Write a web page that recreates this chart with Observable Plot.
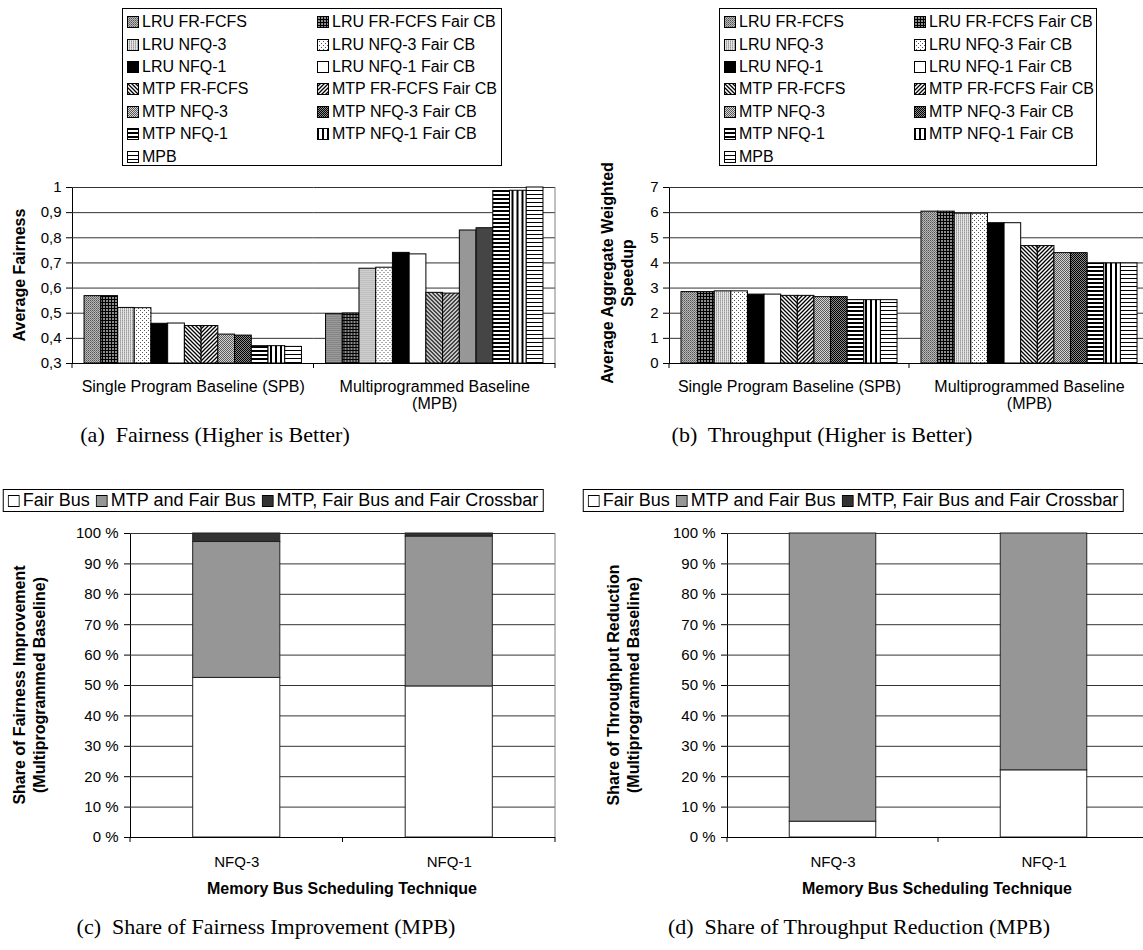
<!DOCTYPE html>
<html><head><meta charset="utf-8">
<script src="https://cdn.jsdelivr.net/npm/d3@7"></script>
<script src="https://cdn.jsdelivr.net/npm/@observablehq/plot@0.6"></script>
<style>
body{margin:0;background:#fff;}
#page{position:relative;width:1143px;height:950px;overflow:hidden;font-family:"Liberation Sans",Arial,Helvetica,sans-serif;color:#000;background:#fff;}
.box{position:absolute;}
.legend{position:absolute;border:1px solid #000;background:#fff;box-sizing:border-box;}
.tl{display:grid;grid-template-columns:190px auto;grid-auto-rows:22.4px;padding:2px 0 0 4px;font-size:16px;}
.tl .it{display:flex;align-items:center;white-space:nowrap;}
.tl svg,.bl svg{margin-right:3px;flex:none;}
.bl{display:flex;align-items:center;white-space:nowrap;font-size:18px;padding:0 4px;height:23px;transform:translateX(-50%);}
.bl .it{display:flex;align-items:center;margin-right:6px;}
.bl .it:last-child{margin-right:0;}
.caption{position:absolute;font-family:"Liberation Serif","Times New Roman",serif;font-size:22px;white-space:nowrap;transform:translate(-50%,-50%);}
.ytitle{position:absolute;font-weight:bold;font-size:16px;white-space:nowrap;text-align:center;line-height:1.25;transform:translate(-50%,-50%) rotate(-90deg);}
.xtitle{position:absolute;font-weight:bold;font-size:16px;white-space:nowrap;transform:translate(-50%,-50%);}
</style></head>
<body><div id="page"></div>
<script>
// ---------------- DATA ----------------
const series = ["LRU FR-FCFS","LRU FR-FCFS Fair CB","LRU NFQ-3","LRU NFQ-3 Fair CB","LRU NFQ-1","LRU NFQ-1 Fair CB","MTP FR-FCFS","MTP FR-FCFS Fair CB","MTP NFQ-3","MTP NFQ-3 Fair CB","MTP NFQ-1","MTP NFQ-1 Fair CB","MPB"];
const baselines = ["Single Program Baseline (SPB)", "Multiprogrammed Baseline (MPB)"];
const baselineLabels = ["Single Program Baseline (SPB)", "Multiprogrammed Baseline\n(MPB)"];
const fairnessSPB = [0.568,0.568,0.521,0.520,0.458,0.459,0.449,0.449,0.415,0.411,0.369,0.369,0.366];
const fairnessMPB = [0.496,0.499,0.677,0.681,0.740,0.734,0.581,0.578,0.829,0.838,0.986,0.987,1.0];
const throughputSPB = [2.84,2.84,2.87,2.87,2.74,2.74,2.69,2.69,2.64,2.64,2.52,2.52,2.52];
const throughputMPB = [6.04,6.04,5.96,5.96,5.58,5.58,4.67,4.67,4.39,4.39,3.98,3.98,3.98];
const fairnessTicks = [0.3,0.4,0.5,0.6,0.7,0.8,0.9,1.0];
const throughputTicks = [0,1,2,3,4,5,6,7];

const techniques = ["NFQ-3","NFQ-1"];
const components = ["Fair Bus","MTP and Fair Bus","MTP, Fair Bus and Fair Crossbar"];
const fairnessShareFairBus = [52.5, 49.7];
const fairnessShareMTP = [44.7, 49.3];
const fairnessShareCrossbar = [2.8, 1.0];
const throughputShareFairBus = [5.2, 22.1];
const throughputShareMTP = [94.8, 77.9];
const throughputShareCrossbar = [0, 0];
const percentTicks = [0,10,20,30,40,50,60,70,80,90,100];

// ---------------- STYLES ----------------
const FONT = '"Liberation Sans", Arial, Helvetica, sans-serif';
const componentColors = ["#ffffff", "#969696", "#333333"];
const patternDefs = `
<pattern id="pat0" width="2" height="2" patternUnits="userSpaceOnUse"><rect width="2" height="2" fill="#b8b8b8"/><rect width="1" height="1" fill="#555"/><rect x="1" y="1" width="1" height="1" fill="#7a7a7a"/></pattern>
<pattern id="pat1" width="3" height="3" patternUnits="userSpaceOnUse"><rect width="3" height="3" fill="#8c8c8c"/><rect width="3" height="1" fill="#000"/><rect width="1" height="3" fill="#000"/></pattern>
<pattern id="pat2" width="2" height="2" patternUnits="userSpaceOnUse"><rect width="2" height="2" fill="#e4e4e4"/><rect width="1" height="1" fill="#9a9a9a"/><rect y="1" width="1" height="1" fill="#b8b8b8"/></pattern>
<pattern id="pat3" width="4" height="4" patternUnits="userSpaceOnUse"><rect width="4" height="4" fill="#fff"/><rect width="1" height="1" fill="#555"/><rect x="2" y="2" width="1" height="1" fill="#555"/></pattern>
<pattern id="pat4" width="4" height="4" patternUnits="userSpaceOnUse"><rect width="4" height="4" fill="#000"/></pattern>
<pattern id="pat5" width="4" height="4" patternUnits="userSpaceOnUse"><rect width="4" height="4" fill="#fff"/></pattern>
<pattern id="pat6" width="4" height="4" patternUnits="userSpaceOnUse"><rect width="4" height="4" fill="#fff"/><path d="M-1,-1L5,5M-1,3L1,5M3,-1L5,1" stroke="#000" stroke-width="1.3"/></pattern>
<pattern id="pat7" width="4" height="4" patternUnits="userSpaceOnUse"><rect width="4" height="4" fill="#fff"/><path d="M-1,5L5,-1M-1,1L1,-1M3,5L5,3" stroke="#000" stroke-width="1.3"/></pattern>
<pattern id="pat8" width="2" height="2" patternUnits="userSpaceOnUse"><rect width="2" height="2" fill="#d4d4d4"/><rect width="1" height="1" fill="#5a5a5a"/><rect x="1" y="1" width="1" height="1" fill="#5a5a5a"/></pattern>
<pattern id="pat9" width="2" height="2" patternUnits="userSpaceOnUse"><rect width="2" height="2" fill="#8a8a8a"/><rect width="1" height="1" fill="#000"/><rect x="1" y="1" width="1" height="1" fill="#000"/></pattern>
<pattern id="pat10" width="4" height="4" patternUnits="userSpaceOnUse"><rect width="4" height="4" fill="#fff"/><rect width="4" height="2" fill="#000"/></pattern>
<pattern id="pat11" width="5" height="5" patternUnits="userSpaceOnUse"><rect width="5" height="5" fill="#fff"/><rect width="2" height="5" fill="#000"/></pattern>
<pattern id="pat12" width="4" height="4" patternUnits="userSpaceOnUse"><rect width="4" height="4" fill="#fff"/><rect width="4" height="1" fill="#000"/></pattern>`;
const patternOf = i => `url(#pat${i})`;

const page = document.getElementById("page");
page.insertAdjacentHTML("beforeend", `<svg width="0" height="0" style="position:absolute;left:0;top:0"><defs>${patternDefs}</defs></svg>`);

function add(cls, css, html) {
  const d = document.createElement("div");
  d.className = cls;
  Object.assign(d.style, css);
  if (html != null) d.innerHTML = html;
  page.appendChild(d);
  return d;
}
const swatch = fill => `<svg width="12" height="12"><rect x="0.5" y="0.5" width="11" height="11" fill="${fill}" stroke="#000" stroke-width="1"/></svg>`;

// ---------------- TOP LEGENDS ----------------
function topLegend(left, width) {
  const box = add("legend tl", {left: left + "px", top: "8px", width: width + "px", height: "158px"});
  series.forEach((s, i) => {
    const it = document.createElement("div");
    it.className = "it";
    it.innerHTML = swatch(patternOf(i)) + `<span>${s}</span>`;
    box.appendChild(it);
  });
}
topLegend(122, 380);
topLegend(719, 378);

// ---------------- helpers ----------------
function frameBits(svg, bounds, yb, yt) {
  const g = d3.select(svg).append("g");
  g.selectAll("line.bt").data(bounds).join("line")
    .attr("x1", d => d).attr("x2", d => d).attr("y1", yb).attr("y2", yb + 5)
    .attr("stroke", "#000");
  const xr = bounds[bounds.length - 1];
  g.append("line").attr("x1", xr).attr("x2", xr).attr("y1", yt).attr("y2", yb).attr("stroke", "#808080");
}

// ---------------- GROUPED BAR PANELS ----------------
function groupedPanel({left, width, marginLeft, marginRight, spb, mpb, ticks, fmt}) {
  const rows = [];
  [spb, mpb].forEach((vals, gi) => vals.forEach((v, si) =>
    rows.push({baseline: baselines[gi], series: series[si], value: v, pattern: patternOf(si)})));
  const labels = baselines.map((b, i) => ({baseline: b, label: baselineLabels[i]}));
  const y0 = ticks[0], y1 = ticks[ticks.length - 1];
  const plot = Plot.plot({
    width, height: 250, marginLeft, marginRight, marginTop: 17, marginBottom: 57,
    style: {fontFamily: FONT, fontSize: "15px", color: "#000", background: "transparent", overflow: "visible"},
    fx: {domain: baselines, padding: 0, round: false, axis: null, label: null},
    x: {domain: series, paddingInner: 0, paddingOuter: 0.72, round: false, axis: null, label: null},
    y: {domain: [y0, y1], ticks, tickFormat: fmt, tickSize: 6, tickPadding: 5, line: true, label: null},
    color: {type: "identity"},
    marks: [
      Plot.ruleY(ticks.slice(1), {stroke: "#333", strokeWidth: 1}),
      Plot.barY(rows, {fx: "baseline", x: "series", y1: y0, y2: "value", fill: "pattern", stroke: "#000", strokeWidth: 1}),
      Plot.ruleY([y0], {stroke: "#000", strokeWidth: 1}),
      Plot.text(labels, {fx: "baseline", text: "label", frameAnchor: "bottom", lineAnchor: "top", dy: 16, fontSize: 16, lineHeight: 1.08})
    ]
  });
  const holder = add("box", {left: left + "px", top: "170px", width: width + "px", height: "250px"});
  holder.appendChild(plot);
  const fx = plot.scale("fx"), y = plot.scale("y");
  const bounds = fx.domain.map(d => fx.apply(d));
  bounds.push(fx.apply(fx.domain[fx.domain.length - 1]) + fx.bandwidth);
  frameBits(plot, bounds, y.apply(y0), y.apply(y1));
}

const commaFmt = d => d3.format(".1~f")(d).replace(".", ",");
groupedPanel({left: 0, width: 560, marginLeft: 72, marginRight: 5, spb: fairnessSPB, mpb: fairnessMPB, ticks: fairnessTicks, fmt: commaFmt});
groupedPanel({left: 580, width: 569, marginLeft: 89, marginRight: 0, spb: throughputSPB, mpb: throughputMPB, ticks: throughputTicks, fmt: d => String(d)});

add("ytitle", {left: "20px", top: "275px"}, "Average Fairness");
add("ytitle", {left: "618px", top: "273px"}, "Average Aggregate Weighted<br>Speedup");
add("caption", {left: "215px", top: "435px"}, "(a)&nbsp; Fairness (Higher is Better)");
add("caption", {left: "822px", top: "435px"}, "(b)&nbsp; Throughput (Higher is Better)");

// ---------------- BOTTOM LEGENDS ----------------
function bottomLegend(cx) {
  const box = add("legend bl", {left: cx + "px", top: "489px"});
  components.forEach((c, i) => {
    const it = document.createElement("div");
    it.className = "it";
    it.innerHTML = swatch(componentColors[i]) + `<span>${c}</span>`;
    box.appendChild(it);
  });
}
bottomLegend(273);
bottomLegend(853);

// ---------------- STACKED SHARE PANELS ----------------
function sharePanel({left, width, marginLeft, marginRight, fairBus, mtp, crossbar}) {
  const rows = [];
  techniques.forEach((t, ti) => [fairBus, mtp, crossbar].forEach((arr, ci) =>
    rows.push({technique: t, component: components[ci], value: arr[ti], color: componentColors[ci]})));
  const plot = Plot.plot({
    width, height: 395, marginLeft, marginRight, marginTop: 21, marginBottom: 70,
    style: {fontFamily: FONT, fontSize: "15px", color: "#000", background: "transparent", overflow: "visible"},
    x: {domain: techniques, paddingInner: 0.59, paddingOuter: 0.295, round: false, tickSize: 0, tickPadding: 19, label: null, fontSize: 16},
    y: {domain: [0, 100], ticks: percentTicks, tickFormat: d => `${d} %`, tickSize: 6, tickPadding: 6, line: true, label: null},
    color: {type: "identity"},
    marks: [
      Plot.ruleY(percentTicks.slice(1), {stroke: "#333", strokeWidth: 1}),
      Plot.barY(rows, {x: "technique", y: "value", fill: "color", stroke: "#222", strokeWidth: 1}),
      Plot.ruleY([0], {stroke: "#000", strokeWidth: 1})
    ]
  });
  const holder = add("box", {left: left + "px", top: "512px", width: width + "px", height: "395px"});
  holder.appendChild(plot);
  const x = plot.scale("x"), y = plot.scale("y");
  const bounds = x.domain.map(d => x.apply(d) + x.bandwidth / 2 - x.step / 2);
  bounds.push(bounds[bounds.length - 1] + x.step);
  frameBits(plot, bounds, y.apply(0), y.apply(100));
}
sharePanel({left: 0, width: 560, marginLeft: 130, marginRight: 5, fairBus: fairnessShareFairBus, mtp: fairnessShareMTP, crossbar: fairnessShareCrossbar});
sharePanel({left: 580, width: 569, marginLeft: 147, marginRight: 0, fairBus: throughputShareFairBus, mtp: throughputShareMTP, crossbar: throughputShareCrossbar});

add("ytitle", {left: "30px", top: "685px"}, "Share of Fairness Improvement<br>(Multiprogrammed Baseline)");
add("ytitle", {left: "624px", top: "685px"}, "Share of Throughput Reduction<br>(Multiprogrammed Baseline)");
add("xtitle", {left: "342px", top: "889px"}, "Memory Bus Scheduling Technique");
add("xtitle", {left: "937px", top: "889px"}, "Memory Bus Scheduling Technique");
add("caption", {left: "266px", top: "927px"}, "(c)&nbsp; Share of Fairness Improvement (MPB)");
add("caption", {left: "859px", top: "927px"}, "(d)&nbsp; Share of Throughput Reduction (MPB)");
</script>
</body></html>
